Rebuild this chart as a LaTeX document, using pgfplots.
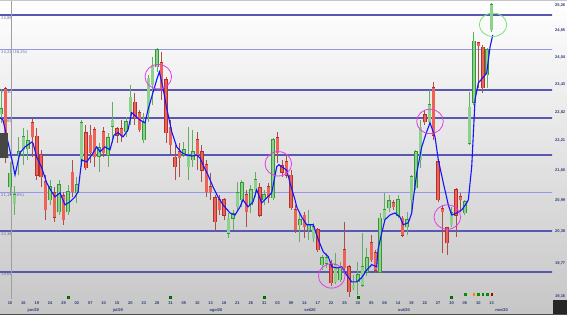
\documentclass[border=0pt]{standalone}
\usepackage{pgfplots}
\pgfplotsset{compat=1.18}
\usepackage{pgfplotstable}
\usepackage{fontspec}
\setmainfont{DejaVu Sans}
\newfontfamily\tickfont{Liberation Sans}

\definecolor{gbody}{RGB}{140,210,140}
\definecolor{gedge}{RGB}{55,150,55}
\definecolor{gwick}{RGB}{95,175,95}
\definecolor{rbody}{RGB}{238,98,88}
\definecolor{redge}{RGB}{175,50,45}
\definecolor{rwick}{RGB}{170,80,75}
\definecolor{lvlthick}{RGB}{88,88,178}
\definecolor{lvlthin}{RGB}{150,150,235}
\definecolor{mablue}{RGB}{20,20,255}
\definecolor{lbl}{RGB}{40,62,115}
\definecolor{lvllbl}{RGB}{105,105,165}
\definecolor{circm}{RGB}{230,60,230}
\definecolor{circg}{RGB}{120,225,120}
\definecolor{bgbot}{RGB}{198,198,198}

% i  low  high  bodybottom  bodytop
\pgfplotstableread{
i L H B T
-2 22.59 23.33 22.78 22.89
0 21.10 21.77 21.26 21.54
1 20.70 21.28 20.92 21.10
2 21.50 22.29 21.91 21.98
3 21.71 22.48 22.02 22.29
4 21.81 22.44 22.04 22.21
9 20.90 21.40 21.00 21.26
11 20.70 21.40 20.76 21.30
13 20.70 21.30 20.76 21.16
15 20.94 21.46 21.14 21.30
16 21.67 22.65 21.77 22.59
20 21.56 22.16 21.89 22.06
22 21.67 22.38 21.91 22.27
23 22.16 23.04 22.52 22.65
26 22.29 22.72 22.40 22.61
27 22.55 23.42 22.83 23.15
30 22.16 22.81 22.23 22.59
31 22.61 23.64 22.81 23.57
32 22.98 24.05 23.42 23.86
33 23.71 24.25 23.82 24.21
39 21.87 22.18 21.91 22.02
40 21.40 22.50 21.67 21.91
41 21.67 22.44 21.81 21.98
49 20.26 20.74 20.35 20.64
50 20.41 20.80 20.64 20.72
51 20.80 21.36 20.86 21.14
52 20.86 21.40 21.00 21.34
54 20.74 21.30 20.90 21.20
55 21.06 21.56 21.20 21.40
57 20.90 21.20 21.00 21.10
59 21.00 22.27 21.04 22.23
65 20.18 20.74 20.51 20.61
67 20.22 20.80 20.41 20.51
68 20.18 20.55 20.26 20.47
70 19.65 19.93 19.75 19.88
71 19.69 19.97 19.78 19.88
73 19.39 19.97 19.43 19.75
74 19.43 19.80 19.47 19.69
77 19.28 19.56 19.32 19.37
78 19.19 19.80 19.43 19.56
79 19.34 20.35 19.37 19.71
80 19.53 20.07 19.61 19.88
83 19.60 20.74 19.61 20.64
84 20.57 21.14 20.61 20.80
85 20.76 21.10 20.84 20.98
87 20.64 21.10 20.70 21.00
89 20.31 20.76 20.47 20.61
90 20.76 21.50 21.00 21.46
91 21.20 22.02 21.24 21.98
92 21.65 22.65 21.81 22.50
94 22.55 23.31 22.61 22.98
99 20.47 20.86 20.51 20.74
102 20.70 21.00 20.74 20.96
103 22.12 23.26 22.16 22.93
104 22.98 24.62 23.04 24.41
107 23.35 24.25 23.64 24.21
108 24.62 25.31 24.67 25.26
}\greentab

\pgfplotstableread{
i L H B T
-1 21.75 23.37 21.85 23.33
5 21.87 22.70 22.29 22.59
6 21.40 22.48 21.50 22.31
7 21.26 22.02 21.46 21.91
8 20.61 21.50 20.80 21.36
10 20.57 21.26 20.66 21.14
12 20.51 21.16 20.61 21.08
14 21.06 21.81 21.16 21.56
17 21.60 22.55 21.65 22.38
18 21.75 22.55 21.96 22.33
19 21.67 22.50 21.87 22.44
21 21.87 22.50 21.96 22.40
24 22.16 22.50 22.33 22.46
25 22.18 22.65 22.31 22.46
28 22.55 23.24 22.70 23.04
29 22.40 22.87 22.44 22.81
34 23.09 24.16 23.35 23.91
35 22.16 23.59 22.38 23.53
36 21.91 22.65 22.12 22.50
37 21.40 22.12 21.67 21.87
38 21.46 22.16 21.85 21.98
42 21.60 22.40 21.91 22.23
43 21.36 22.12 21.60 21.98
44 21.06 21.81 21.16 21.71
45 21.00 21.54 21.16 21.26
46 20.37 21.10 20.57 21.04
47 20.70 21.10 20.80 21.00
48 20.61 21.04 20.70 21.00
53 20.47 21.20 20.76 21.10
56 20.66 21.34 20.70 21.24
58 20.94 21.34 21.04 21.26
60 21.75 22.40 21.96 22.27
61 21.46 21.81 21.56 21.69
62 21.44 21.91 21.50 21.77
63 20.80 21.60 20.84 21.50
64 20.35 20.90 20.41 20.80
66 20.26 20.76 20.47 20.70
69 19.99 20.45 20.03 20.41
72 19.36 19.84 19.41 19.75
75 19.65 20.57 19.69 20.03
76 19.16 19.75 19.25 19.71
81 19.80 20.31 19.84 20.16
82 19.60 20.03 19.65 19.97
86 20.80 21.00 20.86 20.94
88 20.28 20.68 20.31 20.64
93 22.55 22.87 22.61 22.76
95 22.23 23.48 22.33 23.35
96 20.96 21.81 21.00 21.77
97 19.97 20.90 20.76 20.82
98 19.93 20.45 20.16 20.45
100 20.28 21.24 20.70 21.20
101 20.76 21.14 21.00 21.06
105 23.35 24.39 24.30 24.37
106 23.24 24.32 23.35 24.27
}\redtab

\newcommand{\lf}{\fontsize{3.7}{4.2}\selectfont}
\newcommand{\tf}{\tickfont\bfseries\fontsize{4}{4.5}\selectfont}

\begin{document}
\begin{tikzpicture}
\useasboundingbox (0,0) rectangle (567pt,315pt);
\shade[top color=white, bottom color=bgbot] (0,0) rectangle (567pt,315pt);
\fill[gray!45] (0,314pt) rectangle (567pt,315pt);

% level labels (left)
\begin{scope}[every node/.style={font=\lf, text=lvllbl, anchor=north west, inner sep=0pt}]
\node at (1pt,298.3pt) {24,89};
\node at (1pt,264.7pt) {24,22 (38,2\%)};
\node at (1pt,224pt) {23,30};
\node at (1pt,195.7pt) {22,69};
\node at (1pt,159pt) {21,91};
\node at (1pt,121.3pt) {21,15 (50\%)};
\node at (1pt,82.3pt) {20,38};
\node at (1pt,42.3pt) {19,62};
\end{scope}

\begin{axis}[
  at={(0pt,16pt)}, anchor=south west, scale only axis,
  width=552pt, height=298pt,
  xmin=-2.242, xmax=121.52,
  ymode=log, ymin=19.119, ymax=25.356,
  axis line style={draw=none},
  tick style={draw=none}, major tick length=0pt,
  xtick={0,3,...,108},
  xticklabels={10,16,19,24,29,02,07,10,15,20,23,28,31,05,10,13,18,21,26,31,03,09,14,17,22,25,30,05,08,14,19,22,27,30,05,10,13},
  ytick={25.26,24.65,24.04,23.43,22.82,22.21,21.60,20.99,20.38,19.77,19.16},
  yticklabels={{25,26},{24,65},{24,04},{23,43},{22,82},{22,21},{21,60},{20,99},{20,38},{19,77},{19,16}},
  yticklabel pos=right,
  x tick label style={font=\tf, text=lbl, anchor=north, inner sep=0pt, yshift=-2.2pt},
  y tick label style={font=\tf, text=lbl, anchor=west, inner sep=0pt, xshift=3pt},
  clip=true,
]
% level lines
\addplot[lvlthick, line width=2pt] coordinates {(-3,25.01) (122,25.01)};
\addplot[lvlthin, line width=0.9pt] coordinates {(-3,24.22) (122,24.22)};
\addplot[lvlthick, line width=2pt] coordinates {(-3,23.30) (122,23.30)};
\addplot[lvlthick, line width=2pt] coordinates {(-3,22.69) (122,22.69)};
\addplot[lvlthick, line width=2pt] coordinates {(-3,21.91) (122,21.91)};
\addplot[lvlthin, line width=0.9pt] coordinates {(-3,21.15) (122,21.15)};
\addplot[lvlthick, line width=2pt] coordinates {(-3,20.38) (122,20.38)};
\addplot[lvlthick, line width=2pt] coordinates {(-3,19.62) (122,19.62)};
% cursor line
\addplot[gray!75, line width=0.6pt] coordinates {(0.34,19.119) (0.34,25.356)};

% wicks
\addplot[draw=none, error bars/.cd, y dir=plus, y explicit, error mark=none,
  error bar style={draw=gwick, line width=0.9pt}]
  table[x=i, y=L, y error plus expr=\thisrow{H}-\thisrow{L}] {\greentab};
\addplot[draw=none, error bars/.cd, y dir=plus, y explicit, error mark=none,
  error bar style={draw=rwick, line width=0.9pt}]
  table[x=i, y=L, y error plus expr=\thisrow{H}-\thisrow{L}] {\redtab};
% bodies outline
\addplot[draw=none, error bars/.cd, y dir=plus, y explicit, error mark=none,
  error bar style={draw=gedge, line width=3.5pt}]
  table[x=i, y expr=\thisrow{B}*0.99953, y error plus expr=\thisrow{T}*1.00047-\thisrow{B}*0.99953] {\greentab};
\addplot[draw=none, error bars/.cd, y dir=plus, y explicit, error mark=none,
  error bar style={draw=redge, line width=3.5pt}]
  table[x=i, y expr=\thisrow{B}*0.99953, y error plus expr=\thisrow{T}*1.00047-\thisrow{B}*0.99953] {\redtab};
% bodies fill
\addplot[draw=none, error bars/.cd, y dir=plus, y explicit, error mark=none,
  error bar style={draw=gbody, line width=2.5pt}]
  table[x=i, y=B, y error plus expr=\thisrow{T}-\thisrow{B}] {\greentab};
\addplot[draw=none, error bars/.cd, y dir=plus, y explicit, error mark=none,
  error bar style={draw=rbody, line width=2.5pt}]
  table[x=i, y=B, y error plus expr=\thisrow{T}-\thisrow{B}] {\redtab};

% moving average
\addplot[mablue, line width=1.1pt] coordinates {
(-2.24,22.70) (-1.57,22.65) (0.45,21.81) (1.12,21.50) (2.24,21.96) (3.36,22.08)
(4.87,22.18) (5.16,22.16) (5.99,21.87) (7.11,21.65) (8.23,21.34) (9.35,21.16)
(10.09,21.06) (11.21,21.14) (12.33,20.90) (13.45,20.96) (14.57,21.06) (15.25,21.16)
(16.08,21.81) (17.20,21.77) (18.32,21.91) (19.44,22.08) (20.18,21.98) (21.30,22.08)
(22.42,22.02) (23.32,22.33) (24.22,22.38) (25.34,22.29) (26.46,22.44) (27.29,22.81)
(29.15,22.65) (30.27,22.59) (30.94,22.87) (31.77,23.15) (32.89,23.53) (33.48,23.71)
(34.30,23.35) (35.13,22.91) (36.26,22.40) (37.38,22.08) (38.50,21.96) (39.62,21.91)
(40.74,21.89) (41.86,21.91) (42.60,21.85) (43.27,21.71) (44.39,21.50) (45.52,21.26)
(46.64,21.06) (47.76,20.90) (49.33,20.74) (50.45,20.70) (51.57,20.86) (52.24,21.00)
(53.36,20.86) (54.48,20.96) (55.31,21.20) (56.43,20.94) (57.56,21.04) (58.68,21.14)
(59.80,21.67) (60.31,21.71) (61.21,21.65) (62.04,21.60) (62.78,21.34) (63.90,21.00)
(64.28,20.86) (65.40,20.66) (66.52,20.51) (68.00,20.51) (69.13,20.22) (70.25,19.99)
(71.37,19.90) (72.13,19.71) (73.25,19.69) (74.37,19.71) (75.49,19.56) (76.61,19.43)
(77.74,19.43) (78.86,19.51) (79.98,19.65) (81.10,19.75) (82.22,19.71) (82.51,20.03)
(83.34,20.35) (84.08,20.61) (85.20,20.70) (86.32,20.74) (87.44,20.66) (88.18,20.51)
(89.31,20.55) (90.07,20.74) (90.43,21.02) (91.19,21.54) (92.31,22.08) (93.43,22.40)
(94.17,22.59) (95.29,22.29) (96.03,21.81) (97.15,21.34) (98.27,20.90) (99.04,20.70)
(100.16,20.74) (101.28,20.80) (102.40,20.94) (102.76,21.00) (103.52,21.67) (104.26,23.09)
(105.00,23.46) (106.12,23.59) (106.88,23.68) (107.62,24.27) (108.23,24.55)
};

% highlight circles
\addplot[only marks, mark=o, mark size=12.2pt, mark options={draw=circm, line width=0.8pt, xscale=1.09}]
  coordinates {(33.25,23.60) (60.16,21.73) (72.13,19.54) (94.17,22.62) (98.05,20.66)};
\addplot[only marks, mark=o, mark size=11.7pt, mark options={draw=circg, line width=0.8pt, xscale=1.17}]
  coordinates {(108.3,24.79)};

% signal dots
\addplot[only marks, mark=square*, mark size=0.9pt, mark options={draw=green!40!black, fill=green!60!black}]
  coordinates {(13,19.15) (36,19.15) (57,19.15) (78,19.15) (99,19.15)};
\addplot[only marks, mark=square*, mark size=0.8pt, mark options={draw=green!55!black, fill=green!70!black}]
  coordinates {(102,19.21) (105,19.21) (106,19.21) (107,19.21)};
\addplot[only marks, mark=square*, mark size=0.8pt, mark options={draw=orange, fill=yellow!80!orange}]
  coordinates {(104,19.21)};
\addplot[only marks, mark=square*, mark size=0.8pt, mark options={draw=red!70!black, fill=red}]
  coordinates {(108,19.21)};
\end{axis}

% month labels
\begin{scope}[every node/.style={font=\tf, text=lbl, inner sep=0pt}]
\node at (33.3pt,5pt) {jun/20};
\node at (118pt,5pt) {jul/20};
\node at (216pt,5pt) {ago/20};
\node at (310pt,5pt) {set/20};
\node at (404pt,5pt) {out/20};
\node at (501.6pt,5pt) {nov/20};
\end{scope}
% side boxes
\fill[gray!55!black] (0,157pt) rectangle (8pt,182pt);
\fill[black!85] (552.5pt,0) rectangle (567pt,15pt);
\fill[gray!60!black] (0,0) rectangle (567pt,0.8pt);
\end{tikzpicture}
\end{document}
